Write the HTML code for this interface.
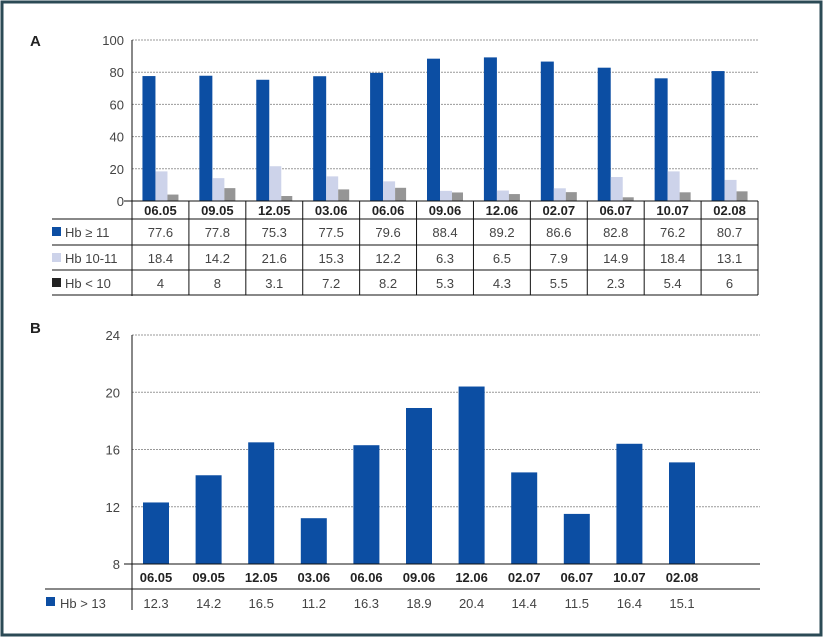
<!DOCTYPE html>
<html><head><meta charset="utf-8"><style>
body{margin:0;background:#fff;}
svg{display:block;font-family:"Liberation Sans",sans-serif;}
</style></head><body>
<svg id="c" width="824" height="639" viewBox="0 0 824 639">
<rect x="2" y="2" width="819" height="633" fill="#fff" stroke="#2b4a55" stroke-width="3"/>
<text x="30" y="46" font-size="15" font-weight="bold" fill="#222">A</text>
<text x="30" y="333" font-size="15" font-weight="bold" fill="#222">B</text>
<g id="ga"></g><g id="gb"></g>
</svg>
<script>
const cats=["06.05","09.05","12.05","03.06","06.06","09.06","12.06","02.07","06.07","10.07","02.08"];
const hbHigh=[77.6,77.8,75.3,77.5,79.6,88.4,89.2,86.6,82.8,76.2,80.7];
const hbMid=[18.4,14.2,21.6,15.3,12.2,6.3,6.5,7.9,14.9,18.4,13.1];
const hbLow=[4,8,3.1,7.2,8.2,5.3,4.3,5.5,2.3,5.4,6];
const ticksA=[0,20,40,60,80,100];
const hb13=[12.3,14.2,16.5,11.2,16.3,18.9,20.4,14.4,11.5,16.4,15.1];
const ticksB=[8,12,16,20,24];
const NS="http://www.w3.org/2000/svg";
function mk(p,t,a){const e=document.createElementNS(NS,t);for(const k in a)e.setAttribute(k,a[k]);p.appendChild(e);return e;}
const ga=document.getElementById('ga'),gb=document.getElementById('gb');
// Panel A
const ax0=132,ax1=758,ay0=201,ay1=40;
const yA=v=>ay0-(v-0)/(100-0)*(ay0-ay1);
const cwA=(ax1-ax0)/cats.length;const xA=i=>ax0+cwA*(i+0.5);
ticksA.forEach(t=>{
 if(t>0){const l=mk(ga,'line',{x1:ax0,x2:ax1,y1:yA(t),y2:yA(t),stroke:'#999','stroke-dasharray':'2,1'});}
 const tx=mk(ga,'text',{x:124,y:yA(t)+5,'font-size':13,fill:'#444','text-anchor':'end'});tx.textContent=t;
 
});
mk(ga,'line',{x1:ax0,x2:ax0,y1:ay1,y2:296,stroke:'#111'});
const series=[[hbHigh,'#0c4ea3',-18,13],[hbMid,'#cdd3ea',-5,12],[hbLow,'#959595',7,11]];
cats.forEach((c,i)=>{
 series.forEach(s=>{const r=mk(ga,'rect',{x:xA(i)+s[2],y:yA(s[0][i]),width:s[3],height:ay0-yA(s[0][i]),fill:s[1]});
 });
});
mk(ga,'line',{x1:ax0-8,x2:ax1,y1:ay0,y2:ay0,stroke:'#111'});
[219,245,270,295].forEach(y=>mk(ga,'line',{x1:52,x2:ax1,y1:y,y2:y,stroke:'#111'}));
for(let i=0;i<=cats.length;i++){const x=ax0+cwA*i;mk(ga,'line',{x1:x,x2:x,y1:ay0,y2:295,stroke:'#111'});}
const rowY=[237,263,288];const rowVals=[hbHigh,hbMid,hbLow];
const labs=[['Hb \u2265 11','#0c4ea3'],['Hb 10-11','#cdd3ea'],['Hb < 10','#222']];
labs.forEach((l,k)=>{mk(ga,'rect',{x:52,y:rowY[k]-10,width:9,height:9,fill:l[1]});
 const t=mk(ga,'text',{x:65,y:rowY[k],'font-size':13,fill:'#444'});t.textContent=l[0];
 });
cats.forEach((c,i)=>{
 const t=mk(ga,'text',{x:xA(i),y:215,'font-size':13,'font-weight':'bold',fill:'#222','text-anchor':'middle'});t.textContent=c;
 
 rowVals.forEach((r,k)=>{const v=mk(ga,'text',{x:xA(i),y:rowY[k],'font-size':13,fill:'#444','text-anchor':'middle'});v.textContent=r[i];
 });
});
// Panel B
const bx0=132,bx1=760,by0=564,by1=335;
const yB=v=>by0-(v-8)/(24-8)*(by0-by1);
const cwB=52.6;const xB=i=>156+cwB*i;
ticksB.forEach(t=>{
 if(t>8){const l=mk(gb,'line',{x1:bx0,x2:bx1,y1:yB(t),y2:yB(t),stroke:'#999','stroke-dasharray':'2,1'});}
 const tx=mk(gb,'text',{x:120,y:yB(t)+5,'font-size':13,fill:'#444','text-anchor':'end'});tx.textContent=t;
 
});
hb13.forEach((v,i)=>{const r=mk(gb,'rect',{x:xB(i)-13,y:yB(v),width:26,height:by0-yB(v),fill:'#0c4ea3'});
 });
mk(gb,'line',{x1:bx0,x2:bx0,y1:by1,y2:610,stroke:'#111'});
mk(gb,'line',{x1:bx0-8,x2:bx1,y1:by0,y2:by0,stroke:'#111'});
mk(gb,'line',{x1:45,x2:bx1,y1:589,y2:589,stroke:'#111'});
mk(gb,'rect',{x:46,y:597,width:9,height:9,fill:'#0c4ea3'});
const lb=mk(gb,'text',{x:60,y:608,'font-size':13,fill:'#444'});lb.textContent='Hb > 13';

cats.forEach((c,i)=>{
 const t=mk(gb,'text',{x:xB(i),y:582,'font-size':13,'font-weight':'bold',fill:'#222','text-anchor':'middle'});t.textContent=c;
 
 const v=mk(gb,'text',{x:xB(i),y:608,'font-size':13,fill:'#444','text-anchor':'middle'});v.textContent=hb13[i];
 
});
</script>
</body></html>
